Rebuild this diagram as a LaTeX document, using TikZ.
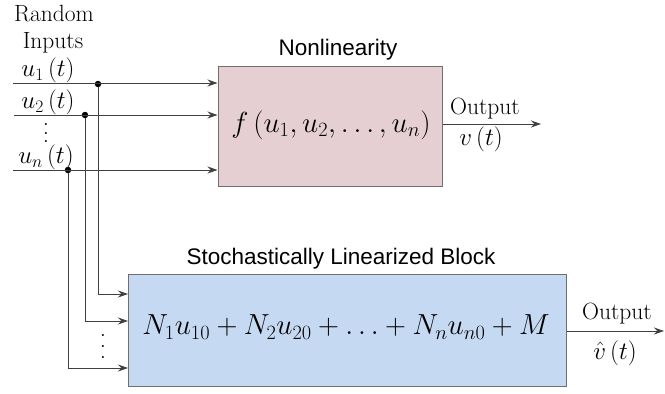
\documentclass[tikz,border=0pt]{standalone}
\usepackage{fix-cm}
\usepackage{fontspec}
\newfontfamily\sansf{Liberation Sans}
\usetikzlibrary{arrows.meta,calc}
\definecolor{pinkbox}{HTML}{E6CFD3}
\definecolor{bluebox}{HTML}{C6D9F2}
\definecolor{edgegray}{HTML}{6E6E6E}
\newcommand\myvdots[1]{\vbox{\baselineskip=#1\lineskiplimit=0pt\lineskip=0pt\hbox{.}\hbox{.}\hbox{.}}}
\begin{document}
\begin{tikzpicture}[x=1pt,y=-1pt,
  blockbox/.style={draw=edgegray,line width=1pt,inner sep=0pt},
  wire/.style={draw=black!75,line width=0.9pt},
  arr/.style={wire,-{Stealth[length=10pt,width=7pt]}},
  junction/.style={circle,fill=black,inner sep=0pt,minimum size=6.5pt},
  serif/.style={font=\fontsize{23.5}{25}\selectfont,inner sep=0pt},
  mlabel/.style={font=\fontsize{25}{27}\selectfont,inner sep=0pt},
  title/.style={font=\sansf\fontsize{22.5}{25}\selectfont,inner sep=0pt},
  bigmath/.style={font=\fontsize{29}{32}\selectfont,inner sep=0pt}]
\useasboundingbox (0,0) rectangle (665,394);
% boxes
\node[blockbox,fill=pinkbox,minimum width=224pt,minimum height=120pt] (top) at (330,126) {};
\node[blockbox,fill=bluebox,minimum width=438pt,minimum height=112pt] (bot) at (347,330) {};
\node[bigmath] (ftext) at (331,125) {$f\left(u_1,u_2,\ldots,u_n\right)$};
\node[bigmath] (btext) at (346,327) {$N_1u_{10}+N_2u_{20}+\ldots+N_nu_{n0}+M$};
\node[title] (ttop) at (338,50) {Nonlinearity};
\node[title] (tbot) at (341,259) {Stochastically Linearized Block};
% labels
\node[serif] (rnd) at (54,14) {Random};
\node[serif] (inp) at (53,43) {Inputs};
\node[mlabel] (l1) at (48,70) {$u_1\left(t\right)$};
\node[mlabel] (l2) at (48,102) {$u_2\left(t\right)$};
\node[mlabel] (ld) at (46,133) {\myvdots{8.5pt}};
\node[mlabel] (ln) at (46,157) {$u_n\left(t\right)$};
% input starts
\coordinate (s1) at (13,83);
\coordinate (s2) at (14,115);
\coordinate (sn) at (13,170);
\node[junction] (d1) at (98,84) {};
\node[junction] (d2) at (85,115) {};
\node[junction] (dn) at (68,170) {};
\draw[arr] (s1) -- (s1 -| top.west);
\draw[arr] (s2) -- (s2 -| top.west);
\draw[arr] (sn) -- (sn -| top.west);
% branches to bottom box
\coordinate (b1) at (128,294);
\coordinate (b2) at (128,321);
\coordinate (bn) at (128,368);
\draw[arr] (d1) |- (b1);
\draw[arr] (d2) |- (b2);
\draw[arr] (dn) |- (bn);
\node[mlabel] (bd) at (103,346) {\myvdots{11pt}};
% outputs
\coordinate (o1) at (541,124);
\draw[arr] (o1 -| top.east) -- (o1);
\node[serif] (ot1) at (485,109) {Output};
\node[mlabel] (ov1) at (481,139) {$v\left(t\right)$};
\coordinate (o2) at (664,331);
\draw[arr] (o2 -| bot.east) -- (o2);
\node[serif] (ot2) at (617,314) {Output};
\node[mlabel] (ov2) at (615,353) {$\hat{v}\left(t\right)$};
\end{tikzpicture}
\end{document}
